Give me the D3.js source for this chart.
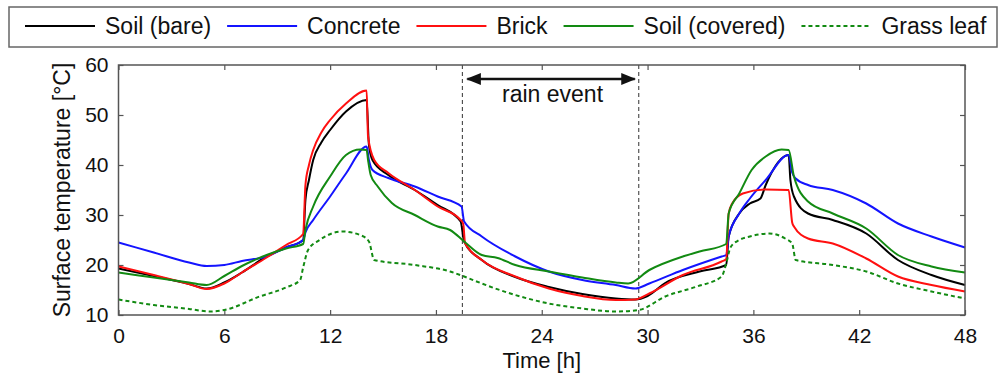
<!DOCTYPE html>
<html>
<head>
<meta charset="utf-8">
<script src="https://cdn.jsdelivr.net/npm/d3@7"></script>
<style>
  body { margin: 0; background: #fff; }
  svg { display: block; font-family: "Liberation Sans", Arial, sans-serif; }
</style>
</head>
<body>
<svg id="chart" width="1001" height="381"></svg>
<script>
// [time h, temperature °C]
const soilBare = [[0,19.3],[2,17.8],[4,16.2],[5,15.3],[6,16.5],[7,18.5],[8.4,21.7],[9.5,23.5],[10.47,25],[10.6,33],[10.8,37],[11.04,41],[11.5,44.5],[12,47],[12.9,50.7],[14.07,53],[14.2,44],[14.4,41],[15.3,38],[16.8,35],[18.1,32],[19.4,28.7],[19.6,24.7],[20.6,21],[22.5,17.6],[24.4,15.6],[26.3,14.2],[28.2,13.3],[29.3,13.1],[30,13.8],[31,16.4],[32.95,18.7],[34.46,20],[34.6,25.7],[35.2,30.3],[35.8,32.3],[36.4,33.3],[36.7,36],[38.0,42],[38.1,37],[38.3,33.7],[39.1,30.3],[40.5,29],[42.4,26.3],[44.2,21],[46.1,18],[48,16]];
const concrete = [[0,24.5],[2,22.5],[4,20.5],[5,19.8],[6,20],[7,20.8],[8.4,21.7],[9.5,23.5],[10.47,25],[10.6,26.5],[11.04,29],[12,33.7],[12.9,38.3],[14.07,43.7],[14.2,41],[14.4,39],[15.3,37.4],[16.8,35.7],[18.1,33.7],[19.45,31.7],[19.6,28.7],[20.6,25.7],[22.5,21.7],[24.4,18.7],[26.3,17],[28.2,16],[29.3,15.3],[30.1,16.3],[32,19],[34.2,21.7],[34.46,22],[34.6,25.7],[35.2,30.3],[35.8,33.3],[36.7,37],[38.0,42],[38.2,38.5],[38.4,37.3],[39.1,36],[40.5,35],[42.4,32.3],[44.2,28.3],[46.1,25.7],[48,23.5]];
const brick = [[0,19.7],[2,18],[4,16.2],[5,15.2],[6,16.3],[7,18.5],[8.4,21.5],[9.5,24],[10.47,26.2],[10.6,36],[10.8,40],[11.04,43],[11.5,46.5],[12,49],[12.9,52.3],[14.07,54.9],[14.15,45.7],[14.5,41],[15.3,38.4],[16.8,35],[18.1,31.7],[19.4,29],[19.55,28.2],[19.65,24.4],[20.6,21],[22.5,17.7],[24.4,15.3],[26.3,13.8],[28.2,13],[29.3,13.1],[30.1,14.3],[32,18],[34.2,20.7],[34.46,21.2],[34.6,30.3],[34.8,32.3],[35.4,34.3],[36.7,35.1],[38.0,35],[38.2,28.5],[38.3,27.7],[39.1,25.3],[40.5,24.3],[42.4,21.3],[44.2,17.7],[46.1,16],[48,14.7]];
const soilCovered = [[0,18.5],[2,17.5],[4,16.5],[5,16],[6,17.8],[7,19.8],[8.4,22],[9.5,23.3],[10.47,24.2],[10.6,27],[11.04,31.7],[12,37.7],[12.9,42],[13.7,43.1],[14.07,43],[14.15,41],[14.3,38],[14.7,35.7],[15.5,32.4],[16.8,30],[18.1,27.7],[18.8,27],[19.6,24.7],[20.6,22],[21.5,21.4],[22.5,20],[24.4,18.7],[26.3,17.5],[28.2,16.5],[28.9,16.3],[30.1,19],[32,21.7],[32.95,22.7],[34.46,24.2],[34.6,30.3],[35.2,34.3],[35.9,39],[36.7,41.7],[37.6,43.1],[38.0,43],[38.3,37.7],[39.1,32.7],[40.5,30.3],[42.4,27.3],[44.2,22],[46.1,19.7],[48,18.5]];
const grassLeaf = [[0,13.1],[2,12],[4,11.2],[5.2,10.7],[6,11],[8,13.7],[9.5,15.5],[10.3,17],[10.47,19.5],[10.75,23],[11.4,25],[12.7,26.7],[13.7,26],[14.2,24.7],[14.5,21],[16.8,20],[18.8,18.7],[19.6,17.7],[20.6,16.3],[22.5,14],[24.4,12.3],[26.3,11.3],[28.2,10.7],[29.5,11],[31,13.7],[32.8,15.7],[34.2,17.7],[34.46,20.3],[34.7,23.5],[35.2,25],[35.8,25.7],[36.9,26.3],[37.8,25.3],[38.2,24.3],[38.4,21],[40.5,20],[42.4,18.7],[44.2,16.3],[46.1,14.7],[48,13.3]];

const seriesNames = ["Soil (bare)", "Concrete", "Brick", "Soil (covered)", "Grass leaf"];
const xTicks = [0, 6, 12, 18, 24, 30, 36, 42, 48];
const yTicks = [10, 20, 30, 40, 50, 60];
const rainEvent = [19.5, 29.5];

const series = [
  { name: seriesNames[0], data: soilBare, color: "#000000", dash: null },
  { name: seriesNames[1], data: concrete, color: "#1414ff", dash: null },
  { name: seriesNames[2], data: brick, color: "#ff1010", dash: null },
  { name: seriesNames[3], data: soilCovered, color: "#128a12", dash: null },
  { name: seriesNames[4], data: grassLeaf, color: "#128a12", dash: "4,3" }
];

const margin = { top: 65, right: 36, bottom: 66, left: 118.5 };
const width = 1001, height = 381;

const svg = d3.select('#chart');

const x = d3.scaleLinear().domain([0, 48]).range([margin.left, width - margin.right]);
const y = d3.scaleLinear().domain([10, 60]).range([height - margin.bottom, margin.top]);

// tick marks inside on all four sides
const axisColor = "#555";
const styleAxis = g => {
  g.select('.domain').remove();
  g.selectAll('.tick line').attr('stroke', axisColor).attr('stroke-width', 1.2);
  g.selectAll('.tick text').attr('fill', '#111').attr('font-size', 21)
    .attr('font-family', '"Liberation Sans", Arial, sans-serif');
};

svg.append('g')
  .attr('transform', `translate(0,${y(10)})`)
  .call(d3.axisBottom(x).tickValues(xTicks).tickSizeInner(-5).tickSizeOuter(0).tickPadding(13))
  .call(styleAxis);
svg.append('g')
  .attr('transform', `translate(0,${y(60)})`)
  .call(d3.axisTop(x).tickValues(xTicks).tickSizeInner(-5).tickSizeOuter(0).tickFormat(''))
  .call(styleAxis);
svg.append('g')
  .attr('transform', `translate(${x(0)},0)`)
  .call(d3.axisLeft(y).tickValues(yTicks).tickSizeInner(-5).tickSizeOuter(0).tickPadding(10))
  .call(styleAxis);
svg.append('g')
  .attr('transform', `translate(${x(48)},0)`)
  .call(d3.axisRight(y).tickValues(yTicks).tickSizeInner(-5).tickSizeOuter(0).tickFormat(''))
  .call(styleAxis);

// rain event
svg.selectAll('line.rain')
  .data(rainEvent)
  .join('line')
  .attr('class', 'rain')
  .attr('x1', d => x(d)).attr('x2', d => x(d))
  .attr('y1', y(60)).attr('y2', y(10))
  .attr('stroke', '#444').attr('stroke-width', 1.1)
  .attr('stroke-dasharray', '4,3');

const defs = svg.append('defs');
defs.append('marker')
  .attr('id', 'arrow')
  .attr('viewBox', '0 0 10 10')
  .attr('refX', 9).attr('refY', 5)
  .attr('markerWidth', 6).attr('markerHeight', 6)
  .attr('orient', 'auto-start-reverse')
  .append('path')
  .attr('d', 'M0,1 L10,5 L0,9 Z')
  .attr('fill', '#111');

svg.append('line')
  .attr('x1', x(rainEvent[0]) + 5).attr('x2', x(rainEvent[1]) - 4)
  .attr('y1', 79).attr('y2', 79)
  .attr('stroke', '#111').attr('stroke-width', 2.5)
  .attr('marker-start', 'url(#arrow)')
  .attr('marker-end', 'url(#arrow)');

svg.append('text')
  .attr('x', (x(rainEvent[0]) + x(rainEvent[1])) / 2 + 2)
  .attr('y', 102)
  .attr('text-anchor', 'middle')
  .attr('font-size', 23)
  .attr('fill', '#111')
  .text('rain event');

// lines
const line = d3.line().curve(d3.curveMonotoneX).x(d => x(d[0])).y(d => y(d[1]));
svg.append('g')
  .selectAll('path')
  .data(series)
  .join('path')
  .attr('d', d => line(d.data))
  .attr('fill', 'none')
  .attr('stroke', d => d.color)
  .attr('stroke-width', 2)
  .attr('stroke-linejoin', 'round')
  .attr('stroke-dasharray', d => d.dash);

// frame
svg.append('rect')
  .attr('x', x(0)).attr('y', y(60))
  .attr('width', x(48) - x(0)).attr('height', y(10) - y(60))
  .attr('fill', 'none')
  .attr('stroke', axisColor).attr('stroke-width', 1.5);

// axis titles
svg.append('text')
  .attr('x', (x(0) + x(48)) / 2)
  .attr('y', 368)
  .attr('text-anchor', 'middle')
  .attr('font-size', 22)
  .attr('fill', '#111')
  .text('Time [h]');

svg.append('text')
  .attr('transform', `translate(70,${(y(10) + y(60)) / 2}) rotate(-90)`)
  .attr('text-anchor', 'middle')
  .attr('font-size', 23)
  .attr('fill', '#111')
  .text('Surface temperature [°C]');

// legend
const legend = svg.append('g');
legend.append('rect')
  .attr('x', 9).attr('y', 7)
  .attr('width', 988).attr('height', 40)
  .attr('fill', '#fff')
  .attr('stroke', '#666').attr('stroke-width', 1.5);

let lx = 25;
series.forEach(s => {
  legend.append('line')
    .attr('x1', lx).attr('x2', lx + 70)
    .attr('y1', 26).attr('y2', 26)
    .attr('stroke', s.color).attr('stroke-width', 2)
    .attr('stroke-dasharray', s.dash);
  const t = legend.append('text')
    .attr('x', lx + 80).attr('y', 34)
    .attr('font-size', 23)
    .attr('fill', '#111')
    .text(s.name);
  lx += 80 + t.node().getComputedTextLength() + 16;
});
</script>
</body>
</html>
